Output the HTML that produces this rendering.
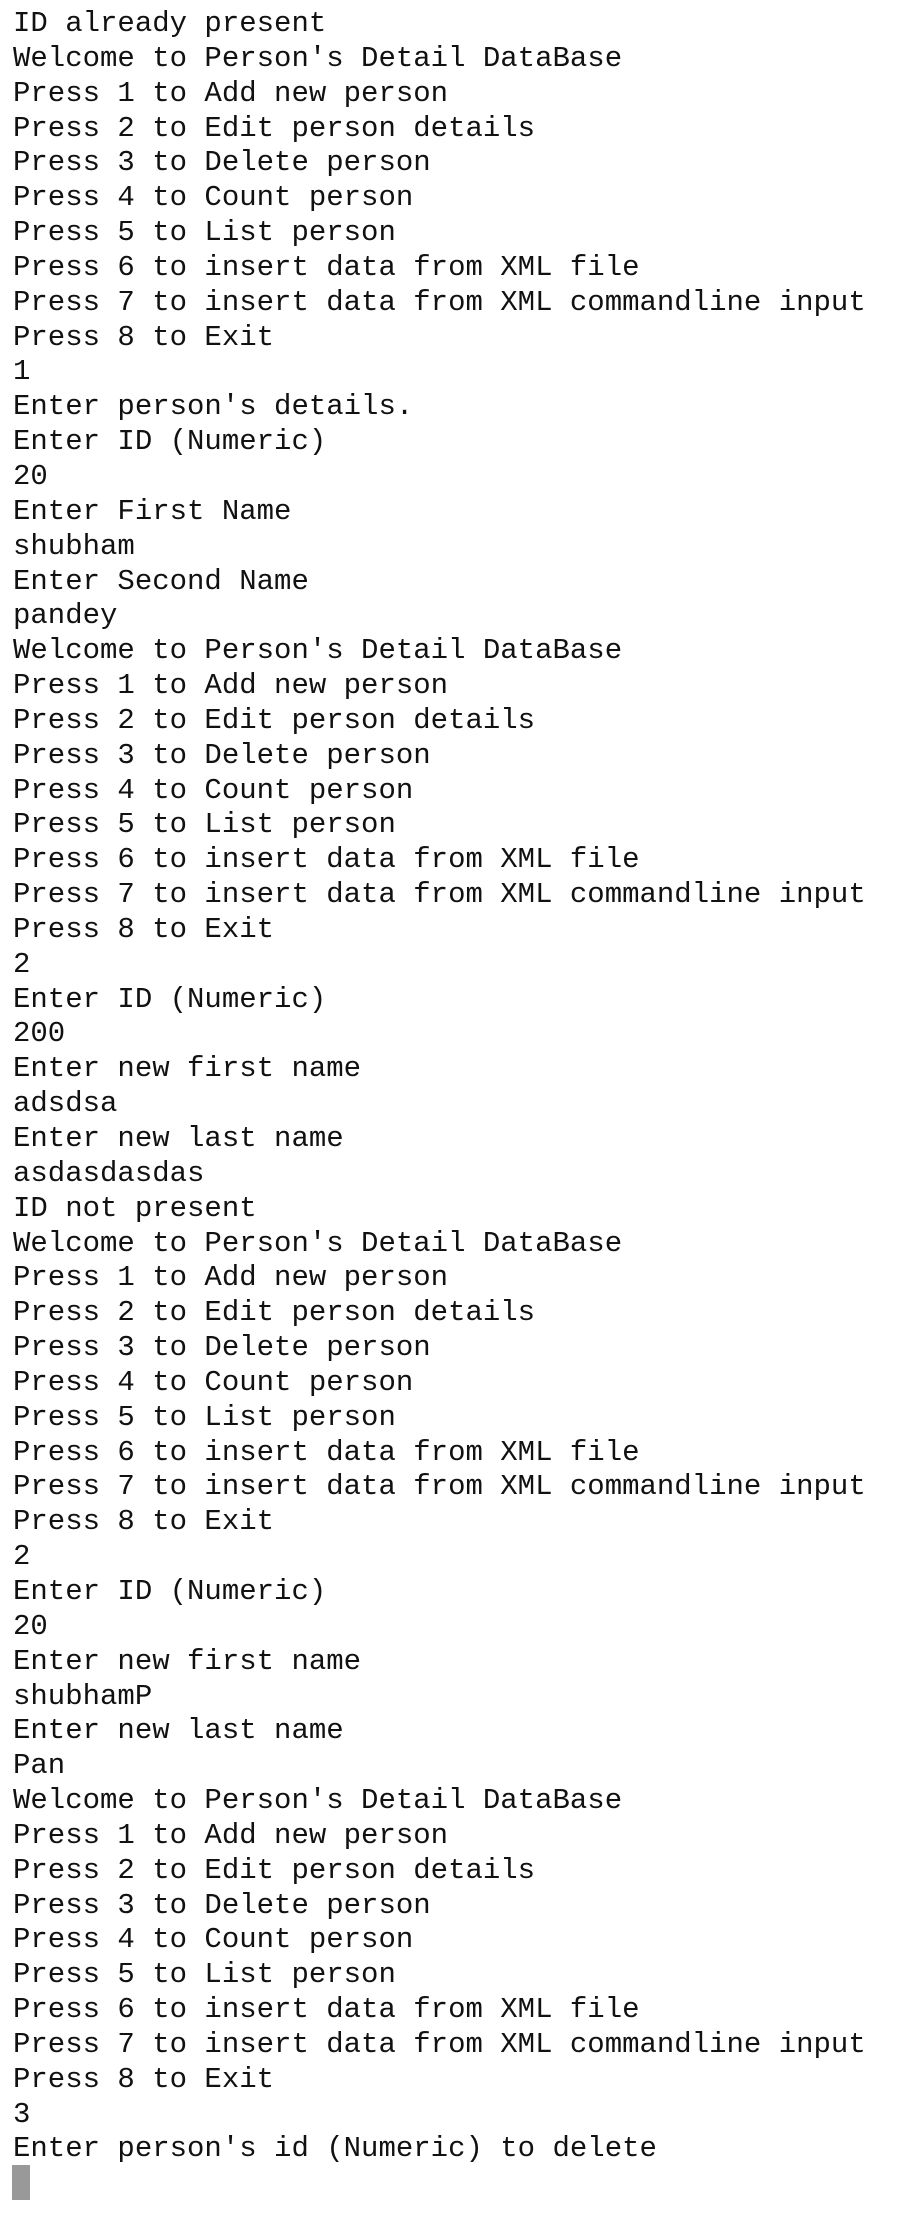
<!DOCTYPE html>
<html><head><meta charset="utf-8"><style>
html,body{margin:0;padding:0;background:#fff;width:904px;height:2240px;overflow:hidden}
pre{margin:0;position:absolute;left:13px;top:7px;font-family:"Liberation Mono",monospace;font-size:29px;line-height:34.85px;color:#111;white-space:pre}
.cur{position:absolute;left:12px;top:2165px;width:18px;height:35px;background:#999}
</style></head><body>
<pre>ID already present
Welcome to Person's Detail DataBase
Press 1 to Add new person
Press 2 to Edit person details
Press 3 to Delete person
Press 4 to Count person
Press 5 to List person
Press 6 to insert data from XML file
Press 7 to insert data from XML commandline input
Press 8 to Exit
1
Enter person's details.
Enter ID (Numeric)
20
Enter First Name
shubham
Enter Second Name
pandey
Welcome to Person's Detail DataBase
Press 1 to Add new person
Press 2 to Edit person details
Press 3 to Delete person
Press 4 to Count person
Press 5 to List person
Press 6 to insert data from XML file
Press 7 to insert data from XML commandline input
Press 8 to Exit
2
Enter ID (Numeric)
200
Enter new first name
adsdsa
Enter new last name
asdasdasdas
ID not present
Welcome to Person's Detail DataBase
Press 1 to Add new person
Press 2 to Edit person details
Press 3 to Delete person
Press 4 to Count person
Press 5 to List person
Press 6 to insert data from XML file
Press 7 to insert data from XML commandline input
Press 8 to Exit
2
Enter ID (Numeric)
20
Enter new first name
shubhamP
Enter new last name
Pan
Welcome to Person's Detail DataBase
Press 1 to Add new person
Press 2 to Edit person details
Press 3 to Delete person
Press 4 to Count person
Press 5 to List person
Press 6 to insert data from XML file
Press 7 to insert data from XML commandline input
Press 8 to Exit
3
Enter person's id (Numeric) to delete</pre>
<div class="cur"></div>
</body></html>
